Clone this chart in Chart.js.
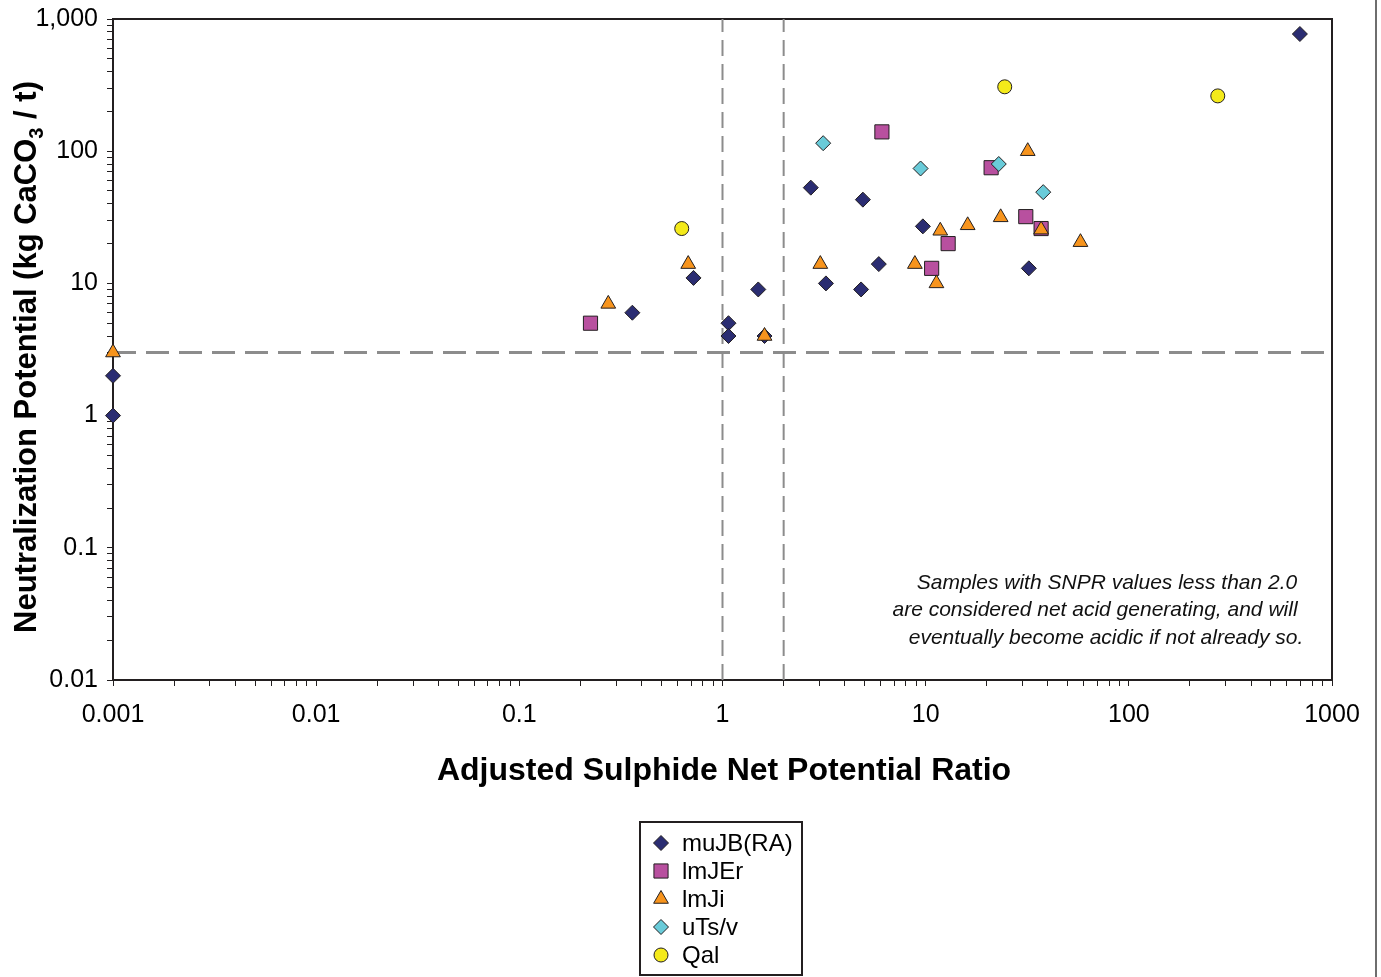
<!DOCTYPE html>
<html>
<head>
<meta charset="utf-8">
<title>SNPR vs NP</title>
<script src="https://cdn.jsdelivr.net/npm/chart.js@4.4.1/dist/chart.umd.min.js"></script>
<style>
  html, body { margin: 0; padding: 0; background: #fff; }
  #wrap { width: 1381px; height: 977px; position: relative; }
</style>
</head>
<body>
<div id="wrap"><canvas id="snprChart" width="1381" height="977"></canvas></div>
<script>
// 시리즈 이름
var seriesNames = ['muJB(RA)', 'lmJEr', 'lmJi', 'uTs/v', 'Qal'];

// muJB(RA)
var muJBx = [0.001, 0.001, 0.36, 0.72, 1.07, 1.07, 1.5, 1.61, 2.72, 3.23, 4.81, 4.91, 5.88, 9.69, 32.2, 695];
var muJBy = [2, 1, 6, 11, 5, 4, 9, 4, 53, 10, 9, 43, 14, 27, 13, 770];

// lmJEr
var lmJErx = [0.224, 6.09, 10.7, 12.9, 21.0, 31.1, 37.0];
var lmJEry = [5, 140, 13, 20, 75, 32, 26];

// lmJi
var lmJix = [0.001, 0.274, 0.678, 1.61, 3.03, 8.85, 11.3, 11.8, 16.1, 23.4, 31.8, 37.0, 57.8];
var lmJiy = [3, 7, 14, 4, 14, 14, 10, 25, 27.5, 31.6, 100, 25.5, 20.5];

// uTs/v
var uTsx = [3.13, 9.44, 22.9, 37.9];
var uTsy = [115, 74, 80, 49];

// Qal
var qalx = [0.63, 24.5, 274];
var qaly = [26, 307, 262];

// 기준선 (SNPR 1, 2 / NP 3)
var snprLimits = [1, 2];
var npLimit = 3;

// 축 눈금
var xMajorTicks = [0.001, 0.01, 0.1, 1, 10, 100, 1000];
var xTickLabels = ['0.001', '0.01', '0.1', '1', '10', '100', '1000'];
var yMajorTicks = [0.01, 0.1, 1, 10, 100, 1000];
var yTickLabels = ['0.01', '0.1', '1', '10', '100', '1,000'];

var noteLines = [
	'Samples with SNPR values less than 2.0',
	'are considered net acid generating, and will',
	'eventually become acidic if not already so.'
];

var FONT = 'Arial, "Liberation Sans", Helvetica, sans-serif';
var INK = '#231F20';

function toPoints(xs, ys) {
	var pts = [];
	for (var i = 0; i < xs.length; i++) {
		pts.push({ x : xs[i], y : ys[i] });
	}
	return pts;
}

// 로그축 눈금: 10의 거듭제곱 + 사이의 2~9배
function logTicks(majors) {
	var out = [];
	majors.forEach(function(m, i) {
		out.push({ value : m, major : true });
		if (i < majors.length - 1) {
			for (var k = 2; k <= 9; k++) {
				out.push({ value : m * k, major : false });
			}
		}
	});
	return out;
}

function tickLabel(value, majors, labels) {
	for (var i = 0; i < majors.length; i++) {
		if (Math.abs(Math.log10(value) - Math.log10(majors[i])) < 1e-6) {
			return labels[i];
		}
	}
	return '';
}

var markerStyles = [
	{ pointStyle : 'rectRot', radius : 7.5, fill : '#2B2D72' },
	{ pointStyle : 'rect', radius : 10, fill : '#B8509F' },
	{ pointStyle : 'triangle', radius : 8.5, fill : '#F7941D' },
	{ pointStyle : 'rectRot', radius : 7.5, fill : '#69CBD9' },
	{ pointStyle : 'circle', radius : 7, fill : '#F4EA1A' }
];

var seriesPoints = [
	toPoints(muJBx, muJBy),
	toPoints(lmJErx, lmJEry),
	toPoints(lmJix, lmJiy),
	toPoints(uTsx, uTsy),
	toPoints(qalx, qaly)
];

var datasets = [];
seriesNames.forEach(function(name, i) {
	var st = markerStyles[i];
	datasets.push({
		label : name,
		data : seriesPoints[i],
		pointStyle : st.pointStyle,
		pointRadius : st.radius,
		pointHoverRadius : st.radius,
		backgroundColor : st.fill,
		borderColor : INK,
		borderWidth : 1,
		showLine : false,
		clip : false,
		order : 5 - i // 뒤 시리즈가 위에 그려짐
	});
});

// 점선 기준선
snprLimits.forEach(function(v) {
	datasets.push({
		label : 'SNPR ' + v,
		data : [ { x : v, y : yMajorTicks[0] }, { x : v, y : yMajorTicks[yMajorTicks.length - 1] } ],
		showLine : true,
		borderColor : '#8C8C8C',
		borderWidth : 2,
		borderDash : [ 16, 8 ],
		pointRadius : 0,
		order : 10
	});
});
datasets.push({
	label : 'NP ' + npLimit,
	data : [ { x : xMajorTicks[0], y : npLimit }, { x : xMajorTicks[xMajorTicks.length - 1], y : npLimit } ],
	showLine : true,
	borderColor : '#8C8C8C',
	borderWidth : 3,
	borderDash : [ 23, 10 ],
	pointRadius : 0,
	order : 10
});

var decorPlugin = {
	id : 'decor',
	beforeDatasetsDraw : function(chart) {
		var ctx = chart.ctx, a = chart.chartArea;
		ctx.save();
		ctx.strokeStyle = INK;
		ctx.lineWidth = 2;
		ctx.strokeRect(a.left, a.top, a.right - a.left, a.bottom - a.top);
		ctx.restore();
	},
	afterDraw : function(chart) {
		var ctx = chart.ctx, a = chart.chartArea;
		ctx.save();

		// x축 제목
		ctx.fillStyle = '#000';
		ctx.font = 'bold 32px ' + FONT;
		ctx.textAlign = 'center';
		ctx.textBaseline = 'middle';
		ctx.fillText('Adjusted Sulphide Net Potential Ratio', 724, 771);

		// y축 제목 (CaCO3 아래첨자)
		ctx.save();
		ctx.translate(25, 357);
		ctx.rotate(-Math.PI / 2);
		var main = 'Neutralization Potential (kg CaCO';
		var sub = '3';
		var tail = ' / t)';
		ctx.font = 'bold 31px ' + FONT;
		var w1 = ctx.measureText(main).width;
		var w3 = ctx.measureText(tail).width;
		ctx.font = 'bold 20px ' + FONT;
		var w2 = ctx.measureText(sub).width;
		var x0 = -(w1 + w2 + w3) / 2;
		ctx.textAlign = 'left';
		ctx.textBaseline = 'alphabetic';
		ctx.font = 'bold 31px ' + FONT;
		ctx.fillText(main, x0, 11);
		ctx.font = 'bold 20px ' + FONT;
		ctx.fillText(sub, x0 + w1, 18);
		ctx.font = 'bold 31px ' + FONT;
		ctx.fillText(tail, x0 + w1 + w2, 11);
		ctx.restore();

		// 설명 문구
		ctx.font = 'italic 21px ' + FONT;
		ctx.textAlign = 'center';
		ctx.textBaseline = 'middle';
		ctx.fillStyle = '#111';
		var noteCenters = [1107, 1095, 1106];
		noteLines.forEach(function(t, i) {
			ctx.fillText(t, noteCenters[i], 583 + i * 27.5);
		});

		// 범례
		var lx = 640, ly = 822, lw = 162, lh = 153;
		ctx.fillStyle = '#fff';
		ctx.fillRect(lx, ly, lw, lh);
		ctx.strokeStyle = INK;
		ctx.lineWidth = 2;
		ctx.strokeRect(lx, ly, lw, lh);
		ctx.font = '24px ' + FONT;
		ctx.textAlign = 'left';
		ctx.textBaseline = 'middle';
		seriesNames.forEach(function(name, i) {
			var st = markerStyles[i];
			var cy = 843 + i * 28;
			ctx.fillStyle = st.fill;
			ctx.strokeStyle = INK;
			ctx.lineWidth = 1;
			Chart.helpers.drawPoint(ctx, {
				pointStyle : st.pointStyle,
				radius : st.radius,
				rotation : 0,
				borderWidth : 1
			}, 661, cy);
			ctx.fillStyle = '#000';
			ctx.fillText(name, 682, cy + 1);
		});

		// 오른쪽 테두리
		ctx.fillStyle = '#6E6E6E';
		ctx.fillRect(1375, 0, 2, 977);
		ctx.restore();
	}
};

var ctx1 = document.getElementById('snprChart').getContext('2d');
var snprChart = new Chart(ctx1, {
	type : 'scatter',
	data : { datasets : datasets },
	options : {
		responsive : false,
		animation : false,
		devicePixelRatio : 1,
		layout : { padding : { left : 0, top : 19, right : 49, bottom : 0 } },
		plugins : {
			legend : { display : false },
			tooltip : { enabled : false }
		},
		scales : {
			x : {
				type : 'logarithmic',
				min : xMajorTicks[0],
				max : xMajorTicks[xMajorTicks.length - 1],
				afterBuildTicks : function(scale) {
					scale.ticks = logTicks(xMajorTicks);
				},
				afterFit : function(scale) {
					scale.height = 297;
					scale.paddingLeft = 0;
					scale.paddingRight = 0;
				},
				grid : {
					drawOnChartArea : false,
					drawTicks : true,
					tickLength : 6,
					tickColor : INK
				},
				border : { display : true, color : INK, width : 2 },
				ticks : {
					autoSkip : false,
					maxRotation : 0,
					minRotation : 0,
					padding : 14,
					color : '#000',
					font : { family : FONT, size : 25 },
					callback : function(value) {
						return tickLabel(value, xMajorTicks, xTickLabels);
					}
				}
			},
			y : {
				type : 'logarithmic',
				min : yMajorTicks[0],
				max : yMajorTicks[yMajorTicks.length - 1],
				afterBuildTicks : function(scale) {
					scale.ticks = logTicks(yMajorTicks);
				},
				afterFit : function(scale) {
					scale.width = 113;
					scale.paddingTop = 0;
					scale.paddingBottom = 0;
				},
				grid : {
					drawOnChartArea : false,
					drawTicks : true,
					tickLength : 6,
					tickColor : INK
				},
				border : { display : true, color : INK, width : 2 },
				ticks : {
					autoSkip : false,
					padding : 9,
					color : '#000',
					font : { family : FONT, size : 25 },
					callback : function(value) {
						return tickLabel(value, yMajorTicks, yTickLabels);
					}
				}
			}
		}
	},
	plugins : [ decorPlugin ]
});
</script>
</body>
</html>
